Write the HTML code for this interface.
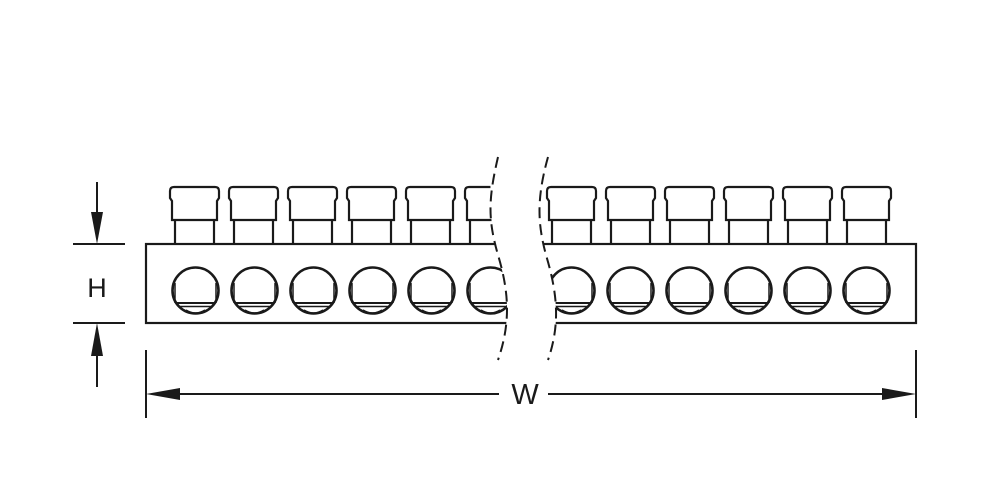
<!DOCTYPE html>
<html><head><style>html,body{margin:0;padding:0;background:#fff;}svg{display:block;}</style></head>
<body>
<svg width="1000" height="500" viewBox="0 0 1000 500" xmlns="http://www.w3.org/2000/svg">
<defs>
<g id="t" fill="none" stroke="#1a1a1a" stroke-width="2.2">
  <path d="M2,220 L2,201 L0,198 L0,191 Q0,187 4,187 L45,187 Q49,187 49,191 L49,198 L47,201 L47,220 Z"/>
  <line x1="5" y1="220" x2="5" y2="244"/>
  <line x1="44" y1="220" x2="44" y2="244"/>
</g>
<g id="h" fill="none" stroke="#1a1a1a">
  <circle cx="25.5" cy="290.5" r="23" stroke-width="2.6" fill="#fff"/>
  <line x1="6" y1="303" x2="45" y2="303" stroke-width="2"/>
  <line x1="8" y1="306.5" x2="43" y2="306.5" stroke-width="1.6"/>
  <line x1="5" y1="283" x2="5" y2="303" stroke-width="1.5"/>
  <line x1="46" y1="283" x2="46" y2="303" stroke-width="1.5"/>
  <path d="M16,310 Q25.5,316 35,310" stroke-width="1.4"/>
</g>
<clipPath id="cl"><path d="M0,0 L498,0 C488,200 488,220 498,255 C510,295 510,325 498,360 L0,360 Z"/></clipPath>
<clipPath id="cr"><path d="M1000,0 L548,0 C536,200 538,225 546,255 C558,295 560,325 548,360 L1000,360 Z"/></clipPath>
</defs>
<g clip-path="url(#cl)">
  <rect x="146" y="244" width="770" height="79" fill="#fff" stroke="#1a1a1a" stroke-width="2.2"/>
  <use href="#t" x="170"/><use href="#t" x="229"/><use href="#t" x="288"/><use href="#t" x="347"/><use href="#t" x="406"/><use href="#t" x="465"/>
  <use href="#h" x="170"/><use href="#h" x="229"/><use href="#h" x="288"/><use href="#h" x="347"/><use href="#h" x="406"/><use href="#h" x="465"/>
</g>
<g clip-path="url(#cr)">
  <rect x="146" y="244" width="770" height="79" fill="#fff" stroke="#1a1a1a" stroke-width="2.2"/>
  <use href="#t" x="547"/><use href="#t" x="606"/><use href="#t" x="665"/><use href="#t" x="724"/><use href="#t" x="783"/><use href="#t" x="842"/>
  <use href="#h" x="546"/><use href="#h" x="605"/><use href="#h" x="664"/><use href="#h" x="723"/><use href="#h" x="782"/><use href="#h" x="841"/>
</g>
<g fill="none" stroke="#1a1a1a" stroke-width="2" stroke-dasharray="11,6">
  <path d="M498,157 C488,200 488,220 498,255 C510,295 510,325 498,360"/>
  <path d="M548,157 C536,200 538,225 546,255 C558,295 560,325 548,360"/>
</g>
<g stroke="#1a1a1a" stroke-width="2" fill="#1a1a1a">
  <line x1="73" y1="244" x2="125" y2="244"/>
  <line x1="73" y1="323" x2="125" y2="323"/>
  <line x1="97" y1="182" x2="97" y2="215"/>
  <polygon points="91,212 103,212 97,244" stroke="none"/>
  <line x1="97" y1="355" x2="97" y2="387"/>
  <polygon points="91,356 103,356 97,323" stroke="none"/>
  <line x1="146" y1="350" x2="146" y2="418"/>
  <line x1="916" y1="350" x2="916" y2="418"/>
  <line x1="175" y1="394" x2="499" y2="394"/>
  <line x1="548" y1="394" x2="888" y2="394"/>
  <polygon points="146,394 180,388 180,400" stroke="none"/>
  <polygon points="916,394 882,388 882,400" stroke="none"/>
</g>
<text x="97" y="297" font-family="Liberation Sans, sans-serif" font-size="27" text-anchor="middle" fill="#1a1a1a">H</text>
<text x="525" y="404" font-family="Liberation Sans, sans-serif" font-size="29" text-anchor="middle" fill="#1a1a1a">W</text>
</svg>
</body></html>
